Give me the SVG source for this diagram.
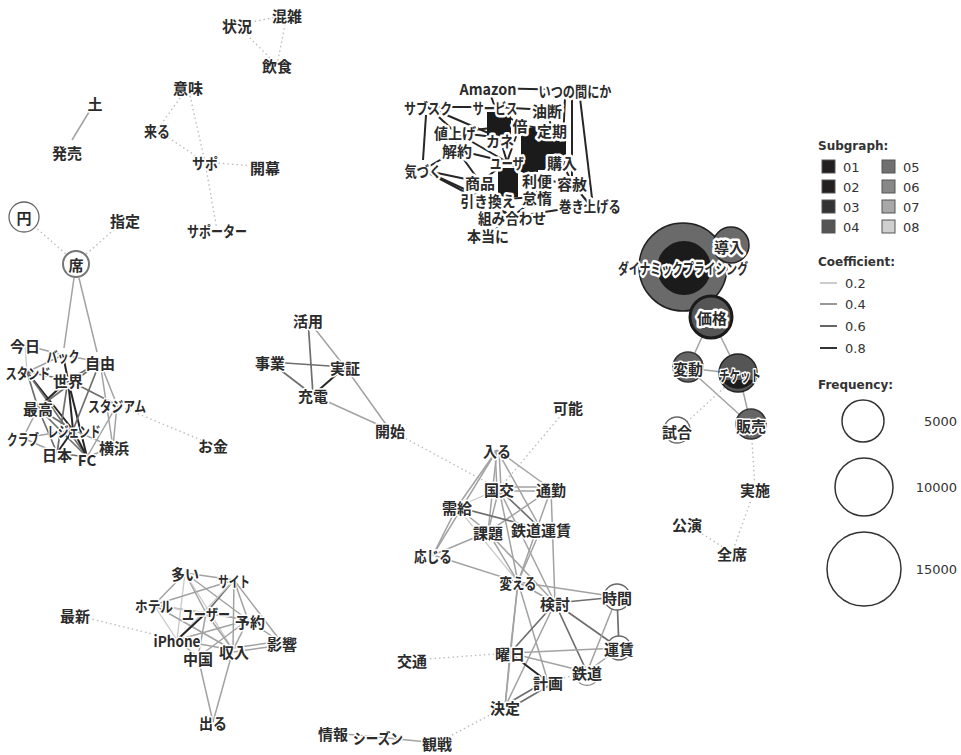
<svg xmlns="http://www.w3.org/2000/svg" width="961" height="755" viewBox="0 0 961 755">
<style>
.e1{stroke:#c8c8c8;stroke-width:1.3;fill:none}
.e2{stroke:#a2a2a2;stroke-width:1.5;fill:none}
.e3{stroke:#6e6e6e;stroke-width:1.7;fill:none}
.e4{stroke:#262626;stroke-width:2;fill:none}
.d{stroke:#bdbdbd;stroke-width:1.4;stroke-dasharray:1.5 3;fill:none}
text{font-family:"Noto Sans CJK JP","Noto Sans",sans-serif}
.n{font-size:15px;font-weight:bold;fill:#2b2b2b;text-anchor:middle;dominant-baseline:central;paint-order:stroke;stroke:#fff;stroke-width:3;stroke-linejoin:round}
.b{stroke-width:5}
.lg{font-family:"DejaVu Sans",sans-serif;font-size:13px;fill:#333}
.lt{font-family:"DejaVu Sans",sans-serif;font-size:12px;font-weight:bold;fill:#333}
.ring{fill:#fff;stroke:#666;stroke-width:1.3}
.sq{stroke:#555;stroke-width:1}
</style>
<rect width="961" height="755" fill="#fff"/>
<g id="edges">
<line class="d" x1="237" y1="25" x2="287" y2="15"/>
<line class="d" x1="237" y1="25" x2="277" y2="65"/>
<line class="d" x1="287" y1="15" x2="277" y2="65"/>
<line class="d" x1="188" y1="87" x2="157" y2="130"/>
<line class="d" x1="188" y1="87" x2="205" y2="162"/>
<line class="d" x1="157" y1="130" x2="205" y2="162"/>
<line class="d" x1="205" y1="162" x2="265" y2="167"/>
<line class="d" x1="205" y1="162" x2="217" y2="230"/>
<line class="d" x1="24" y1="217" x2="76" y2="263"/>
<line class="d" x1="76" y1="263" x2="125" y2="220"/>
<line class="e2" x1="89" y1="112" x2="72" y2="140"/>
<line class="e2" x1="74" y1="278" x2="64" y2="348"/>
<line class="e2" x1="79" y1="278" x2="97" y2="352"/>
<line class="e2" x1="25" y1="345" x2="63" y2="355"/>
<line class="e1" x1="25" y1="345" x2="27" y2="372"/>
<line class="e2" x1="63" y1="355" x2="27" y2="372"/>
<line class="e4" x1="63" y1="355" x2="68" y2="380"/>
<line class="e2" x1="63" y1="355" x2="100" y2="362"/>
<line class="e3" x1="27" y1="372" x2="68" y2="380"/>
<line class="e3" x1="27" y1="372" x2="38" y2="408"/>
<line class="e4" x1="27" y1="372" x2="73" y2="430"/>
<line class="e3" x1="27" y1="372" x2="87" y2="457"/>
<line class="e4" x1="68" y1="380" x2="38" y2="408"/>
<line class="e4" x1="68" y1="380" x2="73" y2="430"/>
<line class="e3" x1="68" y1="380" x2="57" y2="453"/>
<line class="e4" x1="68" y1="380" x2="87" y2="457"/>
<line class="e3" x1="68" y1="380" x2="100" y2="362"/>
<line class="e3" x1="68" y1="380" x2="117" y2="405"/>
<line class="e2" x1="100" y1="362" x2="117" y2="405"/>
<line class="e2" x1="100" y1="362" x2="113" y2="447"/>
<line class="e3" x1="100" y1="362" x2="73" y2="430"/>
<line class="e3" x1="100" y1="362" x2="38" y2="408"/>
<line class="e2" x1="117" y1="405" x2="113" y2="447"/>
<line class="e2" x1="117" y1="405" x2="87" y2="457"/>
<line class="e2" x1="38" y1="408" x2="23" y2="438"/>
<line class="e3" x1="38" y1="408" x2="73" y2="430"/>
<line class="e3" x1="38" y1="408" x2="57" y2="453"/>
<line class="e3" x1="38" y1="408" x2="87" y2="457"/>
<line class="e2" x1="23" y1="438" x2="73" y2="430"/>
<line class="e2" x1="23" y1="438" x2="57" y2="453"/>
<line class="e4" x1="73" y1="430" x2="57" y2="453"/>
<line class="e4" x1="73" y1="430" x2="87" y2="457"/>
<line class="e3" x1="57" y1="453" x2="87" y2="457"/>
<line class="e2" x1="87" y1="457" x2="113" y2="447"/>
<line class="e2" x1="73" y1="430" x2="113" y2="447"/>
<line class="d" x1="117" y1="405" x2="213" y2="445"/>
<line class="e3" x1="308" y1="320" x2="313" y2="395"/>
<line class="e2" x1="308" y1="320" x2="345" y2="367"/>
<line class="e3" x1="270" y1="362" x2="345" y2="367"/>
<line class="e3" x1="270" y1="362" x2="313" y2="395"/>
<line class="e4" x1="345" y1="367" x2="313" y2="395"/>
<line class="e2" x1="313" y1="395" x2="390" y2="430"/>
<line class="e2" x1="345" y1="367" x2="390" y2="430"/>
<line class="d" x1="390" y1="430" x2="499" y2="489"/>
<line class="d" x1="568" y1="407" x2="499" y2="489"/>
<line class="e2" x1="495" y1="450" x2="497" y2="489"/>
<line class="e2" x1="499" y1="450" x2="501" y2="489"/>
<line class="e2" x1="497" y1="450" x2="457" y2="507"/>
<line class="e2" x1="497" y1="450" x2="488" y2="532"/>
<line class="e2" x1="497" y1="450" x2="551" y2="489"/>
<line class="e2" x1="497" y1="450" x2="541" y2="529"/>
<line class="e2" x1="497" y1="450" x2="433" y2="555"/>
<line class="e2" x1="499" y1="487" x2="551" y2="487"/>
<line class="e2" x1="499" y1="491" x2="551" y2="491"/>
<line class="e1" x1="499" y1="489" x2="457" y2="507"/>
<line class="e2" x1="499" y1="489" x2="488" y2="532"/>
<line class="e3" x1="499" y1="489" x2="541" y2="529"/>
<line class="e2" x1="499" y1="489" x2="518" y2="582"/>
<line class="e2" x1="499" y1="489" x2="555" y2="603"/>
<line class="e2" x1="551" y1="489" x2="488" y2="532"/>
<line class="e2" x1="551" y1="489" x2="518" y2="582"/>
<line class="e2" x1="551" y1="489" x2="555" y2="603"/>
<line class="e2" x1="457" y1="507" x2="488" y2="532"/>
<line class="e3" x1="457" y1="507" x2="541" y2="529"/>
<line class="e2" x1="457" y1="507" x2="433" y2="555"/>
<line class="e1" x1="457" y1="507" x2="518" y2="582"/>
<line class="e2" x1="488" y1="532" x2="433" y2="555"/>
<line class="e2" x1="488" y1="532" x2="518" y2="582"/>
<line class="e2" x1="488" y1="532" x2="555" y2="603"/>
<line class="e2" x1="541" y1="529" x2="518" y2="582"/>
<line class="e2" x1="433" y1="555" x2="518" y2="582"/>
<line class="e2" x1="518" y1="582" x2="555" y2="603"/>
<line class="e2" x1="518" y1="582" x2="617" y2="597"/>
<line class="e2" x1="518" y1="582" x2="510" y2="653"/>
<line class="e2" x1="518" y1="582" x2="548" y2="682"/>
<line class="e2" x1="518" y1="582" x2="505" y2="707"/>
<line class="e3" x1="555" y1="603" x2="617" y2="597"/>
<line class="e3" x1="555" y1="603" x2="510" y2="653"/>
<line class="e3" x1="555" y1="603" x2="587" y2="672"/>
<line class="e3" x1="555" y1="603" x2="619" y2="648"/>
<line class="e2" x1="555" y1="603" x2="505" y2="707"/>
<line class="e3" x1="617" y1="597" x2="619" y2="648"/>
<line class="e2" x1="617" y1="597" x2="587" y2="672"/>
<line class="e2" x1="510" y1="653" x2="619" y2="648"/>
<line class="e2" x1="510" y1="653" x2="587" y2="672"/>
<line class="e4" x1="510" y1="653" x2="548" y2="682"/>
<line class="e2" x1="510" y1="653" x2="505" y2="707"/>
<line class="e3" x1="548" y1="680" x2="505" y2="705"/>
<line class="e3" x1="550" y1="685" x2="507" y2="710"/>
<line class="e2" x1="587" y1="672" x2="619" y2="648"/>
<line class="d" x1="587" y1="672" x2="548" y2="682"/>
<line class="d" x1="412" y1="660" x2="510" y2="653"/>
<line class="d" x1="505" y1="707" x2="437" y2="743"/>
<line class="e2" x1="378" y1="737" x2="437" y2="743"/>
<line class="e2" x1="333" y1="733" x2="378" y2="737"/>
<line class="e2" x1="185" y1="573" x2="234" y2="580"/>
<line class="e2" x1="185" y1="573" x2="154" y2="605"/>
<line class="e2" x1="185" y1="573" x2="206" y2="613"/>
<line class="e2" x1="185" y1="573" x2="248" y2="620"/>
<line class="e1" x1="185" y1="573" x2="233" y2="650"/>
<line class="e1" x1="185" y1="573" x2="177" y2="640"/>
<line class="e3" x1="234" y1="580" x2="206" y2="613"/>
<line class="e2" x1="234" y1="580" x2="248" y2="620"/>
<line class="e2" x1="234" y1="580" x2="282" y2="643"/>
<line class="e2" x1="234" y1="580" x2="233" y2="650"/>
<line class="e2" x1="234" y1="580" x2="154" y2="605"/>
<line class="e1" x1="234" y1="580" x2="177" y2="640"/>
<line class="e2" x1="154" y1="605" x2="206" y2="613"/>
<line class="e1" x1="154" y1="605" x2="248" y2="620"/>
<line class="e2" x1="154" y1="605" x2="233" y2="650"/>
<line class="e1" x1="154" y1="605" x2="177" y2="640"/>
<line class="e4" x1="206" y1="613" x2="177" y2="640"/>
<line class="e2" x1="206" y1="613" x2="248" y2="620"/>
<line class="e2" x1="206" y1="613" x2="233" y2="650"/>
<line class="e2" x1="206" y1="613" x2="198" y2="657"/>
<line class="e2" x1="248" y1="620" x2="282" y2="643"/>
<line class="e2" x1="248" y1="620" x2="198" y2="657"/>
<line class="e2" x1="248" y1="620" x2="177" y2="640"/>
<line class="e2" x1="248" y1="620" x2="233" y2="650"/>
<line class="e2" x1="177" y1="640" x2="198" y2="657"/>
<line class="e2" x1="177" y1="640" x2="233" y2="650"/>
<line class="e2" x1="233" y1="648" x2="282" y2="641"/>
<line class="e2" x1="233" y1="652" x2="282" y2="645"/>
<line class="e2" x1="198" y1="657" x2="213" y2="722"/>
<line class="e2" x1="233" y1="650" x2="213" y2="722"/>
<line class="d" x1="75" y1="615" x2="177" y2="640"/>
<line class="e3" x1="683" y1="267" x2="730" y2="246"/>
<line class="e3" x1="683" y1="267" x2="711" y2="317"/>
<line class="e2" x1="711" y1="317" x2="688" y2="368"/>
<line class="e2" x1="711" y1="317" x2="739" y2="374"/>
<line class="e2" x1="688" y1="368" x2="739" y2="374"/>
<line class="e2" x1="688" y1="368" x2="751" y2="425"/>
<line class="e2" x1="739" y1="374" x2="751" y2="425"/>
<line class="d" x1="677" y1="431" x2="739" y2="374"/>
<line class="d" x1="751" y1="425" x2="755" y2="489"/>
<line class="d" x1="755" y1="489" x2="732" y2="553"/>
<line class="d" x1="687" y1="524" x2="732" y2="553"/>
<line class="e4" x1="428" y1="107" x2="495" y2="107"/>
<line class="e4" x1="428" y1="107" x2="455" y2="132"/>
<line class="e4" x1="428" y1="107" x2="500" y2="138"/>
<line class="e4" x1="426" y1="115" x2="423" y2="160"/>
<line class="e4" x1="455" y1="132" x2="500" y2="138"/>
<line class="e4" x1="455" y1="132" x2="520" y2="125"/>
<line class="e4" x1="455" y1="132" x2="457" y2="150"/>
<line class="e4" x1="455" y1="132" x2="507" y2="162"/>
<line class="e4" x1="457" y1="150" x2="423" y2="170"/>
<line class="e4" x1="457" y1="150" x2="480" y2="182"/>
<line class="e4" x1="457" y1="150" x2="507" y2="162"/>
<line class="e4" x1="423" y1="170" x2="480" y2="182"/>
<line class="e4" x1="423" y1="170" x2="488" y2="200"/>
<line class="e4" x1="423" y1="170" x2="512" y2="217"/>
<line class="e4" x1="480" y1="182" x2="507" y2="162"/>
<line class="e4" x1="480" y1="182" x2="488" y2="200"/>
<line class="e4" x1="488" y1="200" x2="512" y2="217"/>
<line class="e4" x1="512" y1="217" x2="492" y2="232"/>
<line class="e4" x1="512" y1="217" x2="590" y2="205"/>
<line class="e4" x1="488" y1="88" x2="575" y2="90"/>
<line class="e4" x1="488" y1="88" x2="495" y2="107"/>
<line class="e4" x1="495" y1="107" x2="547" y2="110"/>
<line class="e4" x1="495" y1="107" x2="520" y2="125"/>
<line class="e4" x1="520" y1="125" x2="552" y2="130"/>
<line class="e4" x1="520" y1="125" x2="507" y2="162"/>
<line class="e4" x1="500" y1="138" x2="507" y2="162"/>
<line class="e4" x1="547" y1="110" x2="552" y2="130"/>
<line class="e4" x1="552" y1="130" x2="562" y2="162"/>
<line class="e4" x1="507" y1="162" x2="562" y2="162"/>
<line class="e4" x1="507" y1="162" x2="537" y2="180"/>
<line class="e4" x1="537" y1="180" x2="537" y2="197"/>
<line class="e4" x1="537" y1="180" x2="572" y2="183"/>
<line class="e4" x1="562" y1="162" x2="572" y2="183"/>
<line class="e4" x1="572" y1="98" x2="572" y2="176"/>
<line class="e4" x1="580" y1="98" x2="592" y2="198"/>
<line class="e4" x1="565" y1="98" x2="562" y2="162"/>
<line class="e4" x1="572" y1="183" x2="590" y2="205"/>
<line class="e4" x1="537" y1="197" x2="488" y2="200"/>
<line class="e4" x1="537" y1="197" x2="512" y2="217"/>
</g>
<g id="blobs">
<rect x="487" y="112" width="24" height="24" fill="#1b1b1b"/>
<rect x="521" y="128" width="17" height="44" fill="#1b1b1b"/>
<rect x="528" y="138" width="38" height="32" fill="#1b1b1b"/>
<rect x="498" y="168" width="20" height="29" fill="#1b1b1b"/>
</g>
<g id="n-dp"><circle cx="683" cy="267" r="44" fill="#6a6a6a" stroke="#222" stroke-width="1.5"/><circle cx="684" cy="268" r="27" fill="#1b1b1b"/><text class="n b" x="683" y="267" textLength="130" lengthAdjust="spacingAndGlyphs">ダイナミックプライシング</text></g>
<g id="n-dounyuu"><circle cx="731" cy="245" r="18" fill="#6a6a6a" stroke="#222" stroke-width="1.5"/><text class="n b" x="729" y="246">導入</text></g>
<g id="n-kakaku"><circle cx="711" cy="317" r="21" fill="#555" stroke="#1b1b1b" stroke-width="3"/><text class="n b" x="712" y="317">価格</text></g>
<g id="n-hendou"><circle cx="688" cy="367" r="15" fill="#666" stroke="#333" stroke-width="1.5"/><text class="n" x="688" y="368">変動</text></g>
<g id="n-ticket"><circle cx="738" cy="373" r="19" fill="#555" stroke="#222" stroke-width="1.5"/><path d="M722,380 A19,19 0 0 0 754,380 Z" fill="#1b1b1b"/><text class="n" x="740" y="374" textLength="42" lengthAdjust="spacingAndGlyphs">チケット</text></g>
<g id="n-hanbai"><circle cx="751" cy="424" r="15" fill="#666" stroke="#333" stroke-width="1.5"/><text class="n" x="751" y="425">販売</text></g>
<g id="n-shiai"><circle class="ring" cx="677" cy="430" r="13"/><text class="n" x="677" y="431">試合</text></g>
<g id="n-jisshi"><text class="n" x="755" y="489">実施</text></g>
<g id="n-kouen"><text class="n" x="687" y="524">公演</text></g>
<g id="n-zenseki"><text class="n" x="732" y="553">全席</text></g>
<g id="n-joukyou"><text class="n" x="237" y="25">状況</text></g>
<g id="n-konzatsu"><text class="n" x="287" y="15">混雑</text></g>
<g id="n-inshoku"><text class="n" x="277" y="65">飲食</text></g>
<g id="n-imi"><text class="n" x="188" y="87">意味</text></g>
<g id="n-do"><text class="n" x="95" y="103">土</text></g>
<g id="n-kuru"><text class="n" x="157" y="130" textLength="26" lengthAdjust="spacingAndGlyphs">来る</text></g>
<g id="n-hatsubai"><text class="n" x="67" y="152">発売</text></g>
<g id="n-sapo"><text class="n" x="205" y="162" textLength="26" lengthAdjust="spacingAndGlyphs">サポ</text></g>
<g id="n-kaimaku"><text class="n" x="265" y="167">開幕</text></g>
<g id="n-en"><circle class="ring" cx="24" cy="217" r="15"/><text class="n" x="24" y="217">円</text></g>
<g id="n-shitei"><text class="n" x="125" y="220">指定</text></g>
<g id="n-supporter"><text class="n" x="217" y="230" textLength="60" lengthAdjust="spacingAndGlyphs">サポーター</text></g>
<g id="n-seki"><circle cx="76" cy="264" r="13" fill="#fff" stroke="#777" stroke-width="2"/><text class="n" x="76" y="264">席</text></g>
<g id="n-kyou"><text class="n" x="25" y="345">今日</text></g>
<g id="n-back"><text class="n" x="63" y="355" textLength="33" lengthAdjust="spacingAndGlyphs">バック</text></g>
<g id="n-jiyuu"><text class="n" x="100" y="362">自由</text></g>
<g id="n-stand"><text class="n" x="28" y="372" textLength="45" lengthAdjust="spacingAndGlyphs">スタンド</text></g>
<g id="n-sekai"><text class="n" x="68" y="380">世界</text></g>
<g id="n-saikou"><text class="n" x="38" y="408">最高</text></g>
<g id="n-stadium"><text class="n" x="117" y="405" textLength="58" lengthAdjust="spacingAndGlyphs">スタジアム</text></g>
<g id="n-club"><text class="n" x="23" y="438" textLength="32" lengthAdjust="spacingAndGlyphs">クラブ</text></g>
<g id="n-legend"><text class="n" x="74" y="430" textLength="53" lengthAdjust="spacingAndGlyphs">レジェンド</text></g>
<g id="n-nihon"><text class="n" x="57" y="454">日本</text></g>
<g id="n-fc"><text class="n" x="87" y="459">FC</text></g>
<g id="n-yokohama"><text class="n" x="114" y="447">横浜</text></g>
<g id="n-okane"><text class="n" x="213" y="445">お金</text></g>
<g id="n-katsuyou"><text class="n" x="308" y="320">活用</text></g>
<g id="n-jigyou"><text class="n" x="270" y="362">事業</text></g>
<g id="n-jisshou"><text class="n" x="345" y="367">実証</text></g>
<g id="n-juuden"><text class="n" x="313" y="395">充電</text></g>
<g id="n-kaishi"><text class="n" x="390" y="430">開始</text></g>
<g id="n-kanou"><text class="n" x="568" y="407">可能</text></g>
<g id="n-hairu"><text class="n" x="497" y="450" textLength="28" lengthAdjust="spacingAndGlyphs">入る</text></g>
<g id="n-kokkou"><text class="n" x="499" y="489">国交</text></g>
<g id="n-tsuukin"><text class="n" x="551" y="489">通勤</text></g>
<g id="n-jukyuu"><text class="n" x="457" y="507">需給</text></g>
<g id="n-kadai"><text class="n" x="488" y="532">課題</text></g>
<g id="n-tetsudouunchin"><text class="n" x="541" y="529" textLength="60" lengthAdjust="spacingAndGlyphs">鉄道運賃</text></g>
<g id="n-oujiru"><text class="n" x="433" y="555" textLength="38" lengthAdjust="spacingAndGlyphs">応じる</text></g>
<g id="n-kaeru"><text class="n" x="518" y="582" textLength="37" lengthAdjust="spacingAndGlyphs">変える</text></g>
<g id="n-kentou"><text class="n" x="555" y="603">検討</text></g>
<g id="n-jikan"><circle class="ring" cx="617" cy="597" r="13"/><text class="n" x="617" y="597">時間</text></g>
<g id="n-unchin"><circle class="ring" cx="619" cy="648" r="12"/><text class="n" x="619" y="648">運賃</text></g>
<g id="n-youbi"><text class="n" x="510" y="653">曜日</text></g>
<g id="n-koutsuu"><text class="n" x="412" y="660">交通</text></g>
<g id="n-tetsudou"><path d="M577,680 A12,12 0 0 0 597,680" fill="none" stroke="#888" stroke-width="1.3"/><text class="n" x="587" y="672">鉄道</text></g>
<g id="n-keikaku"><text class="n" x="548" y="682">計画</text></g>
<g id="n-kettei"><text class="n" x="505" y="707">決定</text></g>
<g id="n-jouhou"><text class="n" x="333" y="733">情報</text></g>
<g id="n-season"><text class="n" x="378" y="737" textLength="50" lengthAdjust="spacingAndGlyphs">シーズン</text></g>
<g id="n-kansen"><text class="n" x="437" y="743">観戦</text></g>
<g id="n-ooi"><text class="n" x="185" y="573" textLength="28" lengthAdjust="spacingAndGlyphs">多い</text></g>
<g id="n-site"><text class="n" x="234" y="580" textLength="32" lengthAdjust="spacingAndGlyphs">サイト</text></g>
<g id="n-hotel"><text class="n" x="154" y="605" textLength="38" lengthAdjust="spacingAndGlyphs">ホテル</text></g>
<g id="n-user"><text class="n" x="206" y="613" textLength="48" lengthAdjust="spacingAndGlyphs">ユーザー</text></g>
<g id="n-yoyaku"><text class="n" x="250" y="621">予約</text></g>
<g id="n-iphone"><text class="n" x="177" y="640" textLength="47" lengthAdjust="spacingAndGlyphs">iPhone</text></g>
<g id="n-eikyou"><text class="n" x="282" y="643">影響</text></g>
<g id="n-chuugoku"><text class="n" x="198" y="658">中国</text></g>
<g id="n-shuunyuu"><text class="n" x="234" y="651">収入</text></g>
<g id="n-saishin"><text class="n" x="75" y="615">最新</text></g>
<g id="n-deru"><text class="n" x="213" y="722" textLength="28" lengthAdjust="spacingAndGlyphs">出る</text></g>
<g id="n-amazon"><text class="n b" x="488" y="88" textLength="57" lengthAdjust="spacingAndGlyphs">Amazon</text></g>
<g id="n-itsunomanika"><text class="n b" x="575" y="90" textLength="73" lengthAdjust="spacingAndGlyphs">いつの間にか</text></g>
<g id="n-subsc"><text class="n b" x="428" y="107" textLength="48" lengthAdjust="spacingAndGlyphs">サブスク</text></g>
<g id="n-service"><text class="n b" x="495" y="107" textLength="45" lengthAdjust="spacingAndGlyphs">サービス</text></g>
<g id="n-yudan"><text class="n b" x="547" y="110">油断</text></g>
<g id="n-bai"><text class="n b" x="520" y="125">倍</text></g>
<g id="n-neage"><text class="n b" x="455" y="132" textLength="42" lengthAdjust="spacingAndGlyphs">値上げ</text></g>
<g id="n-teiki"><text class="n b" x="552" y="130">定期</text></g>
<g id="n-kane"><text class="n b" x="500" y="140" textLength="28" lengthAdjust="spacingAndGlyphs">カネ</text></g>
<g id="n-kaiyaku"><text class="n b" x="457" y="150">解約</text></g>
<g id="n-yuza"><text class="n b" x="507" y="162" textLength="34" lengthAdjust="spacingAndGlyphs">ユーザ</text></g>
<g id="n-kounyuu"><text class="n b" x="562" y="162">購入</text></g>
<g id="n-kidzuku"><text class="n b" x="423" y="170" textLength="37" lengthAdjust="spacingAndGlyphs">気づく</text></g>
<g id="n-shouhin"><text class="n b" x="480" y="182">商品</text></g>
<g id="n-riben"><text class="n b" x="537" y="180">利便</text></g>
<g id="n-yousha"><text class="n b" x="572" y="183">容赦</text></g>
<g id="n-hikikae"><text class="n b" x="488" y="200" textLength="55" lengthAdjust="spacingAndGlyphs">引き換え</text></g>
<g id="n-taida"><text class="n b" x="537" y="197">怠惰</text></g>
<g id="n-makiageru"><text class="n b" x="590" y="205" textLength="62" lengthAdjust="spacingAndGlyphs">巻き上げる</text></g>
<g id="n-kumiawase"><text class="n b" x="512" y="217" textLength="68" lengthAdjust="spacingAndGlyphs">組み合わせ</text></g>
<g id="n-hontouni"><text class="n b" x="488" y="235" textLength="42" lengthAdjust="spacingAndGlyphs">本当に</text></g>
<g id="legend">
<text class="lt" x="818" y="150">Subgraph:</text>
<rect class="sq" x="822" y="160" width="13" height="13" fill="#231f20"/><text class="lg" x="843" y="172">01</text>
<rect class="sq" x="822" y="180" width="13" height="13" fill="#231f20"/><text class="lg" x="843" y="192">02</text>
<rect class="sq" x="822" y="200" width="13" height="13" fill="#333"/><text class="lg" x="843" y="212">03</text>
<rect class="sq" x="822" y="220" width="13" height="13" fill="#555"/><text class="lg" x="843" y="232">04</text>
<rect class="sq" x="882" y="160" width="13" height="13" fill="#707070"/><text class="lg" x="903" y="172">05</text>
<rect class="sq" x="882" y="180" width="13" height="13" fill="#888"/><text class="lg" x="903" y="192">06</text>
<rect class="sq" x="882" y="200" width="13" height="13" fill="#a8a8a8"/><text class="lg" x="903" y="212">07</text>
<rect class="sq" x="882" y="220" width="13" height="13" fill="#cfcfcf"/><text class="lg" x="903" y="232">08</text>
<text class="lt" x="818" y="266">Coefficient:</text>
<line x1="820" y1="283" x2="837" y2="283" stroke="#ccc" stroke-width="2"/><text class="lg" x="845" y="288">0.2</text>
<line x1="820" y1="304" x2="837" y2="304" stroke="#999" stroke-width="2"/><text class="lg" x="845" y="309">0.4</text>
<line x1="820" y1="326" x2="837" y2="326" stroke="#666" stroke-width="2"/><text class="lg" x="845" y="331">0.6</text>
<line x1="820" y1="348" x2="837" y2="348" stroke="#333" stroke-width="2"/><text class="lg" x="845" y="353">0.8</text>
<text class="lt" x="818" y="389">Frequency:</text>
<circle cx="863" cy="421" r="21" fill="none" stroke="#333" stroke-width="1.5"/><text class="lg" x="957" y="426" text-anchor="end">5000</text>
<circle cx="864" cy="487" r="29" fill="none" stroke="#333" stroke-width="1.5"/><text class="lg" x="957" y="492" text-anchor="end">10000</text>
<circle cx="864" cy="569" r="37" fill="none" stroke="#333" stroke-width="1.5"/><text class="lg" x="957" y="574" text-anchor="end">15000</text>
</g>
</svg>
